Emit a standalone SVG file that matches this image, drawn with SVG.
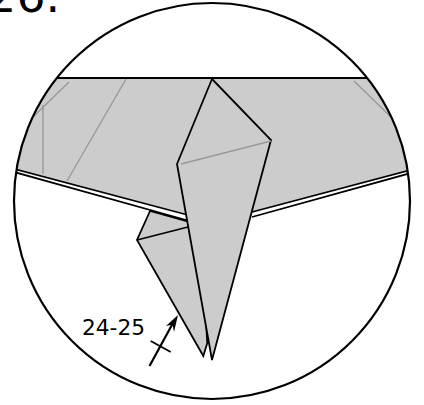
<svg xmlns="http://www.w3.org/2000/svg" width="424" height="405" viewBox="0 0 424 405">
<style>
.o{stroke:#000;stroke-width:1.8;fill:none;stroke-linejoin:miter}
.a{stroke:#000;stroke-width:2.2;fill:none}
.f{fill:#ccc;stroke:#000;stroke-width:1.8;stroke-linejoin:miter}
.g{stroke:#999;stroke-width:1.4;fill:none}
.c{stroke:#000;stroke-width:2.2;fill:none}
.t{font-family:"DejaVu Sans",sans-serif;fill:#000}
</style>
<defs><clipPath id="c"><circle cx="212" cy="201" r="198"/></clipPath></defs>
<text class="t" x="-13" y="11.500" font-size="46">26.</text>
<g id="paper" clip-path="url(#c)">
<polygon points="10,168 50,78 370,78 420,168 252,212 186,214" fill="#ccc"/>
<path class="o" d="M50 78H372"/>
<path class="g" d="M69 82L34 116M126 79L67 181M43 105V174M354 81L392 118"/>
<path d="M5 166.500L186 214.500L186 220L5 170Z" fill="#fff"/>
<path class="o" d="M5 166.500L186 214.500M5 169.500L186 220"/>
<path d="M420 168L252 212L252 217L420 171Z" fill="#fff"/>
<path class="o" d="M420 167.500L252 212M420 170.500L252 217"/>
</g>
<g id="back-flap"><polygon class="f" points="150,211 137,240 203.300,356 207.300,343 200,225"/><path class="o" d="M137 240L188 227"/></g>
<g id="front-flap"><polygon class="f" points="212,79 271,140 212,360 177,164"/><path class="g" d="M181 164L271 141"/></g>
<circle id="circle" class="c" cx="212" cy="201" r="198"/>
<text class="t" x="82" y="335" font-size="21.700">24-25</text>
<g id="connectors">
<path class="a" d="M149.500 366L173 323"/>
<path class="o" d="M150.700 341L170.700 352"/>
<polygon points="178,315 174,332 172.500,324.500 166,326"/>
</g>
</svg>
